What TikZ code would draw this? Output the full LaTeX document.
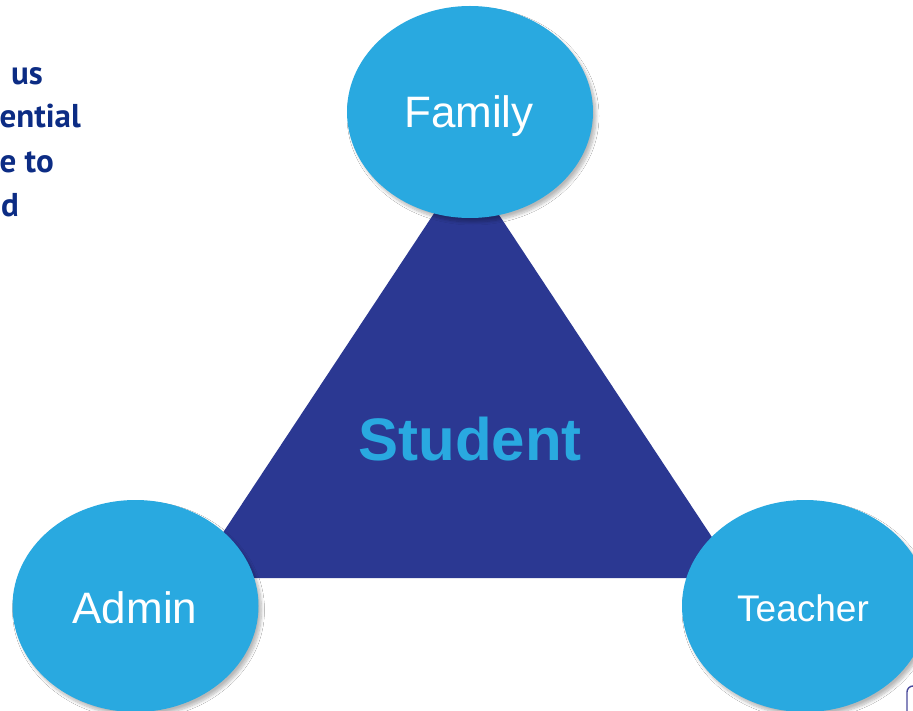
\documentclass[tikz,border=0pt]{standalone}
\usepackage{fontspec}
\setmainfont{Liberation Sans}
\newfontfamily\bodyfont{PT Sans}
\usetikzlibrary{shapes.geometric,shadows.blur}

\definecolor{skyblue}{HTML}{29A9E0}
\definecolor{deepnavy}{HTML}{2B3892}
\definecolor{inknavy}{HTML}{0C2C84}
\definecolor{frameline}{HTML}{4A4A9C}

\tikzset{
  roleoval/.style={ellipse, fill=skyblue, minimum width=246pt, minimum height=212pt,
    inner sep=0pt,
    blur shadow={shadow xshift=3pt, shadow yshift=-4pt, shadow blur steps=8,
      shadow blur radius=3pt, shadow opacity=28}},
  rolelabel/.style={text=white, font=\fontsize{44}{48}\selectfont, anchor=base},
  corelabel/.style={text=skyblue, font=\bfseries\fontsize{60}{64}\selectfont, anchor=base},
  sidetext/.style={text=inknavy, font=\bodyfont\bfseries\fontsize{33}{38}\selectfont,
    anchor=base east, inner sep=0pt}
}

\begin{document}
\begin{tikzpicture}[x=1pt, y=-1pt]
  \useasboundingbox (0,0) rectangle (913,711);
  \clip (0,0) rectangle (913,711);
  \fill[white] (0,0) rectangle (913,711);

  % paragraph running in from the left edge
  \node[sidetext] (l1) at (43,85) {us};
  \node[sidetext] (l2) at (81,128) {ential};
  \node[sidetext] (l3) at (54,173) {e to};
  \node[sidetext] (l4) at (19,217) {d};

  % central triangle
  \coordinate (apex) at (466,165);
  \coordinate (baseL) at (193,578);
  \coordinate (baseR) at (739,578);
  \fill[deepnavy] (apex) -- (baseL) -- (baseR) -- cycle;
  \node[corelabel] (student) at (470,460) {Student};

  % the three partners around it
  \node[roleoval] (family) at (470,112) {};
  \node[roleoval] (admin) at (135.5,606) {};
  \node[roleoval] (teacher) at (805,606) {};

  \node[rolelabel] (familyt) at (469,128) {Family};
  \node[rolelabel] (admint) at (135,623) {Admin};
  \node[rolelabel, font=\fontsize{37}{40}\selectfont] (teachert) at (803,621) {Teacher};

  % corner of a frame entering from the bottom right
  \draw[frameline, line width=1.4pt, fill=white, rounded corners=6pt]
    (907,686) rectangle (960,760);
\end{tikzpicture}
\end{document}
